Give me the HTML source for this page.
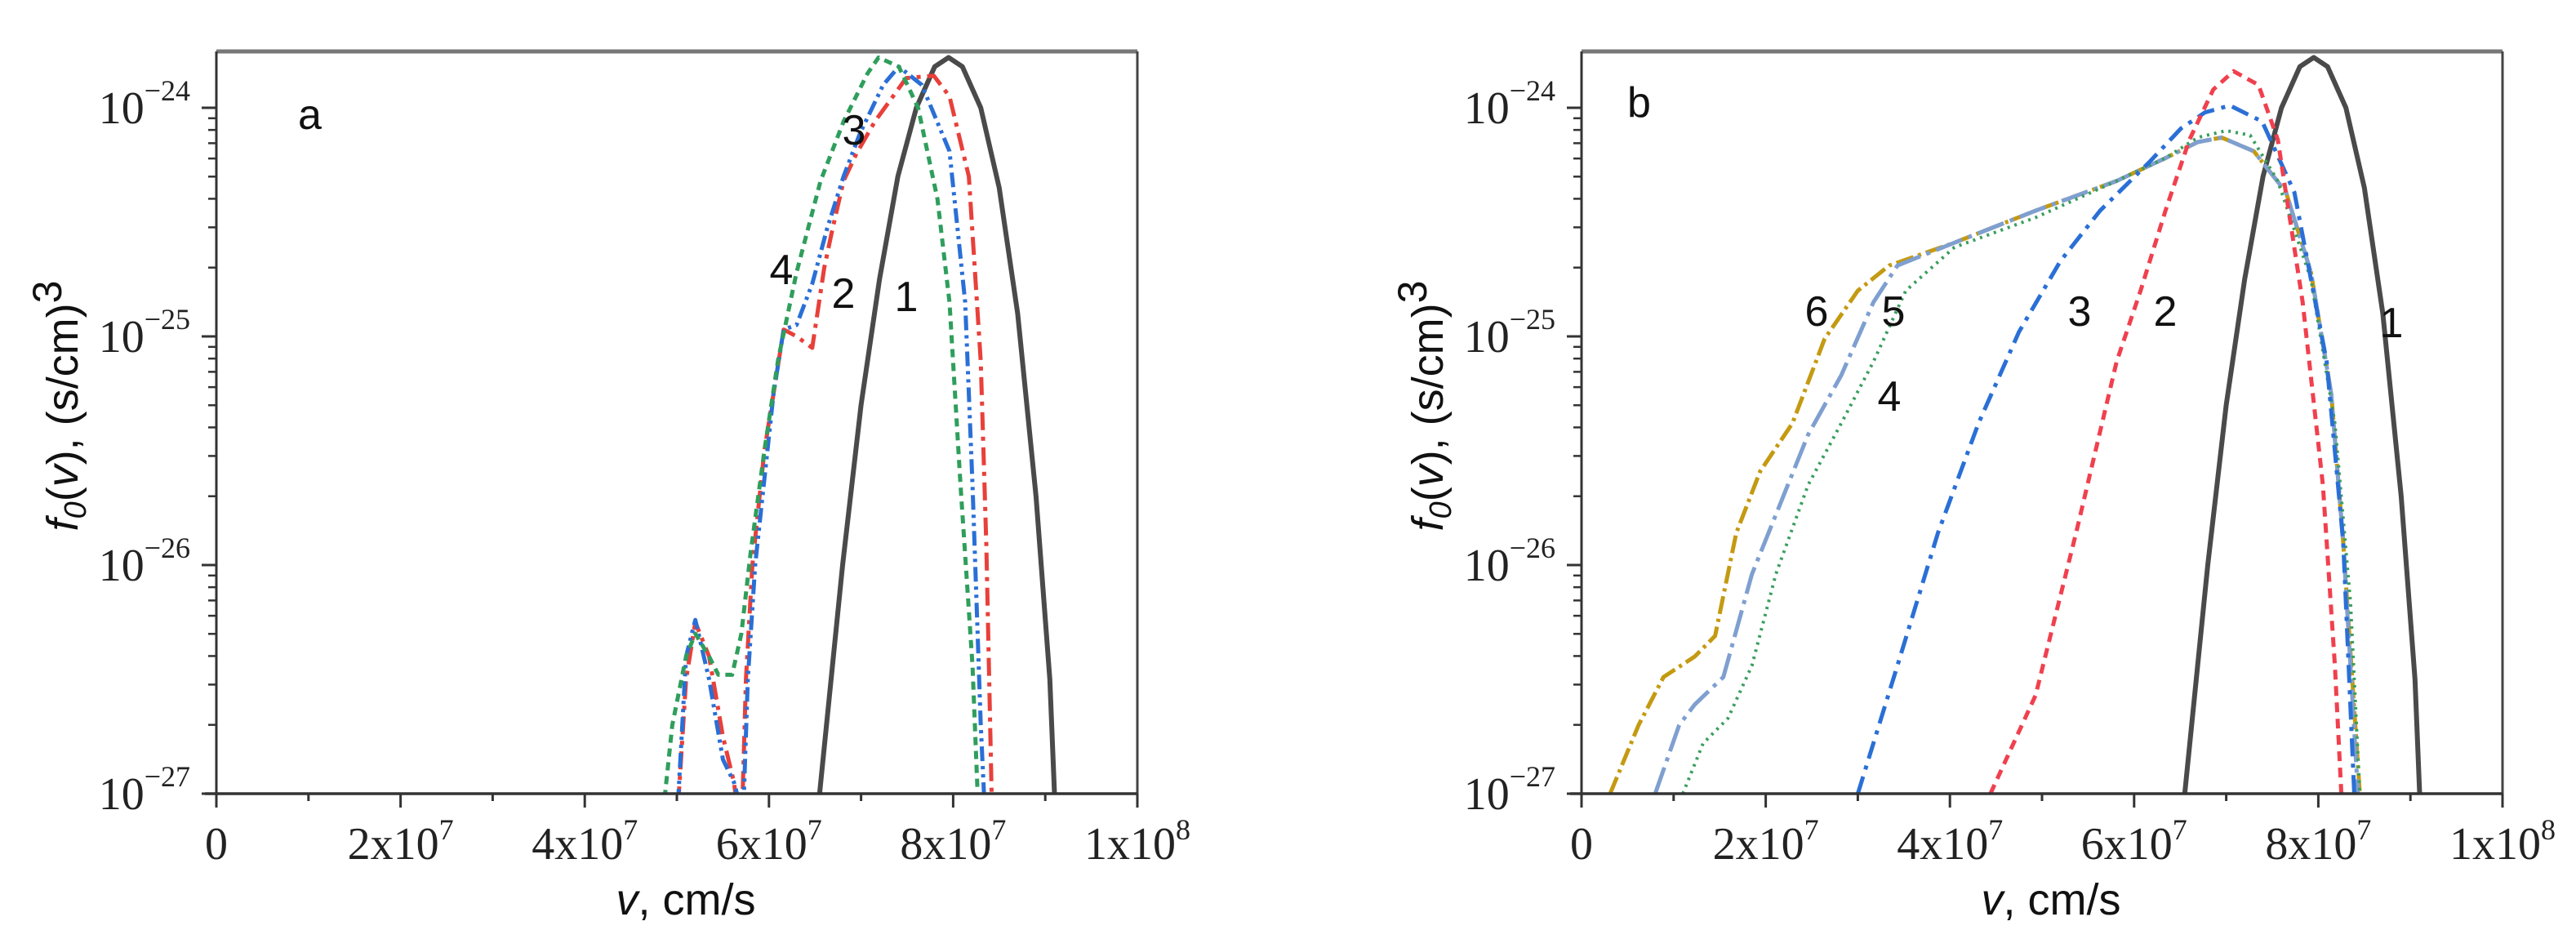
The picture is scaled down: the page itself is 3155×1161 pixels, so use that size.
<!DOCTYPE html>
<html><head><meta charset="utf-8"><style>
html,body{margin:0;padding:0;background:#fff;}
svg{display:block;}
.tk{font-family:"Liberation Serif",serif;font-size:56px;fill:#222;}
.sans{font-family:"Liberation Sans",sans-serif;fill:#111;}
</style></head><body>
<svg id="chart" width="3155" height="1161" viewBox="0 0 3155 1161" xmlns="http://www.w3.org/2000/svg">
</svg>
<script>
// x in units of 1e7 cm/s, y = log10 f0
const xTickValues = [0, 2, 4, 6, 8, 10];
const xTickLabels = ["0", "2x10", "4x10", "6x10", "8x10", "1x10"];
const xTickExps = ["", "7", "7", "7", "7", "8"];
const yTickValues = [-27, -26, -25, -24];
const yTickLabels = ["\u221227", "\u221226", "\u221225", "\u221224"];

const a1v = [6.55,6.8,7.0,7.2,7.4,7.6,7.8,7.95,8.1,8.3,8.5,8.7,8.9,9.05,9.1];
const a1f = [-27.0,-26.0,-25.3,-24.75,-24.3,-24.0,-23.82,-23.78,-23.82,-24.0,-24.35,-24.9,-25.7,-26.5,-27.0];

const a2v = [4.99,5.1,5.2,5.35,5.5,5.62,5.7,5.75,5.82,5.95,6.05,6.16,6.3,6.47,6.6,6.69,6.81,6.95,7.15,7.49,7.79,7.96,8.17,8.3,8.36,8.42];
const a2f = [-27.2,-26.5,-26.25,-26.4,-26.75,-26.95,-27.2,-26.5,-26.0,-25.5,-25.25,-24.97,-25.0,-25.05,-24.7,-24.53,-24.32,-24.2,-24.06,-23.87,-23.86,-23.95,-24.3,-25.11,-25.91,-27.05];

const a3v = [4.99,5.1,5.2,5.35,5.5,5.62,5.72,5.77,5.85,6.05,6.16,6.3,6.47,6.63,6.81,6.99,7.24,7.41,7.66,7.96,8.13,8.21,8.3,8.34];
const a3f = [-27.2,-26.4,-26.24,-26.5,-26.85,-26.95,-27.1,-26.5,-26.0,-25.25,-24.97,-24.95,-24.77,-24.53,-24.3,-24.11,-23.9,-23.82,-23.9,-24.19,-24.85,-25.65,-26.7,-27.05];

const a4v = [4.82,4.95,5.1,5.2,5.35,5.45,5.6,5.7,5.8,5.95,6.1,6.3,6.56,6.81,7.07,7.19,7.41,7.62,7.83,7.96,8.08,8.21,8.27];
const a4f = [-27.2,-26.7,-26.4,-26.3,-26.4,-26.48,-26.48,-26.3,-25.95,-25.5,-25.1,-24.72,-24.32,-24.06,-23.85,-23.78,-23.82,-24.0,-24.4,-24.85,-25.65,-26.44,-27.05];

const b2v = [4.44,4.93,5.37,5.81,6.07,6.34,6.6,6.86,7.08,7.35,7.56,7.83,8.05,8.18,8.25];
const b2f = [-27.0,-26.57,-25.86,-25.11,-24.8,-24.45,-24.14,-23.92,-23.84,-23.9,-24.14,-24.85,-25.65,-26.44,-27.0];

const b3v = [3.0,3.43,3.87,4.31,4.75,5.2,5.63,6.16,6.51,6.77,7.04,7.39,7.74,8.09,8.27,8.39];
const b3f = [-27.0,-26.44,-25.86,-25.38,-24.98,-24.67,-24.45,-24.24,-24.09,-24.02,-23.99,-24.06,-24.37,-25.11,-25.9,-27.0];

const b4v = [1.1,1.32,1.59,1.85,2.11,2.46,2.82,3.17,3.52,4.05,4.93,5.81,6.34,6.69,7.0,7.26,7.56,7.92,8.18,8.35,8.45];
const b4f = [-27.0,-26.78,-26.67,-26.44,-26.04,-25.65,-25.38,-25.11,-24.8,-24.61,-24.48,-24.32,-24.22,-24.13,-24.1,-24.12,-24.32,-24.75,-25.38,-26.17,-27.0];

const b5v = [0.8,1.06,1.23,1.54,1.85,2.11,2.46,2.82,3.17,3.43,4.05,4.93,5.81,6.34,6.69,6.95,7.3,7.65,7.92,8.14,8.27,8.43];
const b5f = [-27.0,-26.7,-26.61,-26.49,-26.04,-25.78,-25.43,-25.17,-24.85,-24.69,-24.59,-24.45,-24.32,-24.22,-24.15,-24.13,-24.19,-24.37,-24.72,-25.25,-25.9,-27.0];

const b6v = [0.31,0.62,0.89,1.23,1.45,1.68,1.94,2.29,2.64,3.0,3.34,4.05,4.93,5.81,6.34,6.69,6.95,7.3,7.65,7.92,8.14,8.27,8.45];
const b6f = [-27.0,-26.7,-26.49,-26.4,-26.31,-25.86,-25.59,-25.38,-25.01,-24.8,-24.69,-24.59,-24.45,-24.32,-24.22,-24.15,-24.13,-24.19,-24.37,-24.72,-25.25,-25.9,-27.0];

const NS = "http://www.w3.org/2000/svg";
const svg = document.getElementById("chart");
function mk(tag, attrs, parent) {
  const e = document.createElementNS(NS, tag);
  for (const k in attrs) e.setAttribute(k, attrs[k]);
  (parent || svg).appendChild(e);
  return e;
}

function panel(id, left, letter, series, labels) {
  const right = left + 1128, top = 63, bottom = 972;
  const xs = v => left + (v / 10) * 1128;
  const ys = l => bottom - (l + 27) * 280;
  const g = mk("g", {});
  
  
  const clipId = "clip-" + id;
  const cp = mk("clipPath", {id: clipId}, g);
  mk("rect", {x: left, y: top, width: 1128, height: bottom - top}, cp);
  // series
  const sg = mk("g", {"clip-path": "url(#" + clipId + ")"}, g);
  series.forEach(s => {
    const d = s.v.map((v, i) => (i ? "L" : "M") + xs(v).toFixed(1) + "," + ys(s.f[i]).toFixed(1)).join(" ");
    const p = mk("path", {d: d, fill: "none", stroke: s.c, "stroke-width": s.w || 5, "stroke-dasharray": s.dash || "none", "stroke-linejoin": "round"}, sg);
    
    
  });
  // frame
  const fr = mk("g", {}, g);
  
  
  mk("line", {x1: left, y1: top, x2: right, y2: top, stroke: "#777", "stroke-width": 5}, fr);
  mk("line", {x1: right, y1: top, x2: right, y2: bottom, stroke: "#444", "stroke-width": 3}, fr);
  mk("line", {x1: left, y1: top, x2: left, y2: bottom + 14, stroke: "#333", "stroke-width": 3}, fr);
  mk("line", {x1: left - 14, y1: bottom, x2: right, y2: bottom, stroke: "#333", "stroke-width": 3.5}, fr);
  // x ticks
  xTickValues.forEach((v, i) => {
    const x = xs(v);
    mk("line", {x1: x, y1: bottom, x2: x, y2: bottom + 17, stroke: "#333", "stroke-width": 3}, g);
    if (i < xTickValues.length - 1) {
      const xm = xs(v + 1);
      mk("line", {x1: xm, y1: bottom, x2: xm, y2: bottom + 9, stroke: "#333", "stroke-width": 3}, g);
    }
    const t = mk("text", {x: x, y: 1052, "text-anchor": "middle", class: "tk"}, g);
    
    
    t.textContent = xTickLabels[i];
    if (xTickExps[i]) {
      const sp = mk("tspan", {dy: -24, "font-size": "36px"}, t);
      sp.textContent = xTickExps[i];
    }
  });
  // y ticks
  yTickValues.forEach((l, i) => {
    const y = ys(l);
    mk("line", {x1: left - 18, y1: y, x2: left, y2: y, stroke: "#333", "stroke-width": 3}, g);
    for (let m = 2; m <= 9; m++) {
      const ym = ys(l + Math.log10(m));
      if (ym < top) break;
      if (i < yTickValues.length) mk("line", {x1: left - 10, y1: ym, x2: left, y2: ym, stroke: "#333", "stroke-width": 2.5}, g);
    }
    const t = mk("text", {x: left - 32, y: y + 19, "text-anchor": "end", class: "tk"}, g);
    
    
    t.textContent = "10";
    const sp = mk("tspan", {dy: -28, "font-size": "36px"}, t);
    sp.textContent = yTickLabels[i];
  });
  // axis titles
  const xt = mk("text", {x: left + 575, y: 1120, "text-anchor": "middle", class: "sans", "font-size": "54px"}, g);
  
  
  xt.innerHTML = '<tspan font-style="italic">v</tspan>, cm/s';
  const yt = mk("text", {x: 0, y: 0, "text-anchor": "middle", class: "sans", "font-size": "54px", transform: "translate(" + (left - 170) + ",497) rotate(-90)"}, g);
  
  
  yt.innerHTML = '<tspan font-style="italic">f</tspan><tspan font-style="italic" font-size="38px" dy="10">0</tspan><tspan dy="-10">(</tspan><tspan font-style="italic">v</tspan>), (s/cm)<tspan font-size="50px" dy="-20">3</tspan>';
  // panel letter
  const pl = mk("text", {x: left + 100 - (id === "b" ? 44 : 0), y: top + 95 - (id === "b" ? 15 : 0), class: "sans", "font-size": "52px"}, g);
  
  
  pl.textContent = letter;
  labels.forEach(L => {
    const t = mk("text", {x: L[1], y: L[2] + 18, "text-anchor": "middle", class: "sans", "font-size": "52px"}, g);
    
    
    t.textContent = L[0];
  });
}

panel("a", 265, "a", [
  {n: "a1", v: a1v, f: a1f, c: "#4a4a4a", w: 6},
  {n: "a2", v: a2v, f: a2f, c: "#e8403a", dash: "22,8,5,8"},
  {n: "a3", v: a3v, f: a3f, c: "#2a6fd6", dash: "18,6,4,6,4,6"},
  {n: "a4", v: a4v, f: a4f, c: "#2f9e5c", dash: "10,7"}
], [["3", 1046, 159], ["4", 957, 330], ["2", 1033, 359], ["1", 1110, 363]]);

panel("b", 1937, "b", [
  {n: "b1", v: a1v, f: a1f, c: "#4a4a4a", w: 6},
  {n: "b6", v: b6v, f: b6f, c: "#c49a12", dash: "22,6,4,6"},
  {n: "b5", v: b5v, f: b5f, c: "#7f9fd0", dash: "34,8,5,8"},
  {n: "b4", v: b4v, f: b4f, c: "#3a9e5e", dash: "3,6", w: 4},
  {n: "b3", v: b3v, f: b3f, c: "#2a6fd6", dash: "22,9,5,9"},
  {n: "b2", v: b2v, f: b2f, c: "#f0404e", dash: "12,8"}
], [["6", 2225, 381], ["5", 2319, 381], ["4", 2314, 485], ["3", 2547, 381], ["2", 2652, 381], ["1", 2929, 395]]);
</script>
</body></html>
